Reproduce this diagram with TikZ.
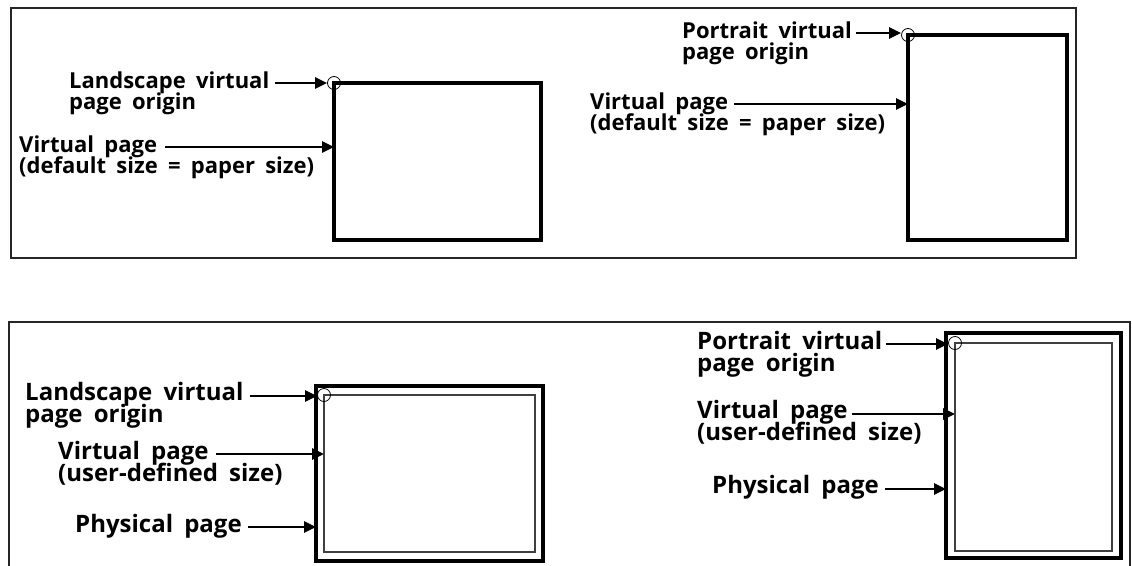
\documentclass[tikz,border=0pt]{standalone}
\usepackage{fontspec}
\setmainfont{Open Sans}[WordSpace=1.8]
\usetikzlibrary{arrows.meta,calc}

\tikzset{
	lbl/.style={font=\bfseries\fontsize{22}{20}\selectfont, inner sep=0pt, anchor=base west},
	lblb/.style={lbl, font=\bfseries\fontsize{24}{22}\selectfont},
	ptr/.style={line width=2.8pt, -{Triangle[length=12pt,width=11pt]}},
	frame/.style={draw=black!85, line width=1.3pt},
	page/.style={draw, line width=3.5pt, inner sep=0pt, outer sep=0pt, anchor=north west},
	virt/.style={draw=black!75, line width=1.3pt, inner sep=0pt, outer sep=0pt, anchor=north west},
	origin/.style={circle, draw, line width=0.8pt, minimum size=13pt, inner sep=0pt}
}

\begin{document}
\begin{tikzpicture}[x=1pt, y=-1pt]
	\useasboundingbox (0,0) rectangle (1132,565);

	% panels
	\draw[frame] (11,8) rectangle (1076,258);
	\draw[frame] (9,580) |- (1130,322) -- (1130,580);

	% top, landscape
	\node[page, minimum width=207pt, minimum height=157pt] (vp1) at (334,83) {};
	\node[origin] (o1) at (vp1.north west) {};
	\node[lbl] (ls1) at (69,88) {Landscape virtual};
	\node[lbl] (ls2) at (69,109) {page origin};
	\node[lbl] (vt1) at (19,152) {Virtual page};
	\node[lbl] (vt2) at (19,173) {(default size = paper size)};
	\draw[ptr] ($(ls1.base east)+(6pt,5pt)$) coordinate (a1) -- (a1 -| o1.west);
	\draw[ptr] ($(vt1.base east)+(8pt,5pt)$) coordinate (a2) -- (a2 -| vp1.west);

	% top, portrait
	\node[page, minimum width=159pt, minimum height=205pt] (vp2) at (908,35) {};
	\node[origin] (o2) at (vp2.north west) {};
	\node[lbl] (pt1) at (682,38) {Portrait virtual};
	\node[lbl] (pt2) at (682,59) {page origin};
	\node[lbl] (vt3) at (590,109) {Virtual page};
	\node[lbl] (vt4) at (590,130) {(default size = paper size)};
	\draw[ptr] ($(pt1.base east)+(4pt,5pt)$) coordinate (a3) -- (a3 -| o2.west);
	\draw[ptr] ($(vt3.base east)+(6pt,5pt)$) coordinate (a4) -- (a4 -| vp2.west);

	% bottom, landscape
	\node[page, line width=4pt, minimum width=227pt, minimum height=175pt] (pp1) at (316,386) {};
	\node[virt, minimum width=211pt, minimum height=157pt] (vp3) at (324,395) {};
	\node[origin] (o3) at (vp3.north west) {};
	\node[lblb] (ls3) at (25,400) {Landscape virtual};
	\node[lblb] (ls4) at (25,422) {page origin};
	\node[lblb] (vt5) at (58,459) {Virtual page};
	\node[lblb] (vt6) at (58,481) {(user-defined size)};
	\node[lblb] (ph1) at (75,532) {Physical page};
	\draw[ptr] ($(ls3.base east)+(6pt,4pt)$) coordinate (a5) -- (a5 -| o3.west);
	\draw[ptr] ($(vt5.base east)+(7pt,5pt)$) coordinate (a6) -- (a6 -| vp3.west);
	\draw[ptr] ($(ph1.base east)+(6pt,5pt)$) coordinate (a7) -- (a7 -| pp1.west);

	% bottom, portrait
	\node[page, line width=4pt, minimum width=175pt, minimum height=225pt] (pp2) at (946,333) {};
	\node[virt, minimum width=157pt, minimum height=208pt] (vp4) at (955,343) {};
	\node[origin] (o4) at (vp4.north west) {};
	\node[lblb] (pt3) at (697,349) {Portrait virtual};
	\node[lblb] (pt4) at (697,371) {page origin};
	\node[lblb] (vt7) at (697,418) {Virtual page};
	\node[lblb] (vt8) at (697,440) {(user-defined size)};
	\node[lblb] (ph2) at (712,493) {Physical page};
	\draw[ptr] ($(pt3.base east)+(4pt,5pt)$) coordinate (a8) -- (a8 -| o4.west);
	\draw[ptr] ($(vt7.base east)+(4pt,4pt)$) coordinate (a9) -- (a9 -| vp4.west);
	\draw[ptr] ($(ph2.base east)+(6pt,4pt)$) coordinate (a10) -- (a10 -| pp2.west);
\end{tikzpicture}
\end{document}
